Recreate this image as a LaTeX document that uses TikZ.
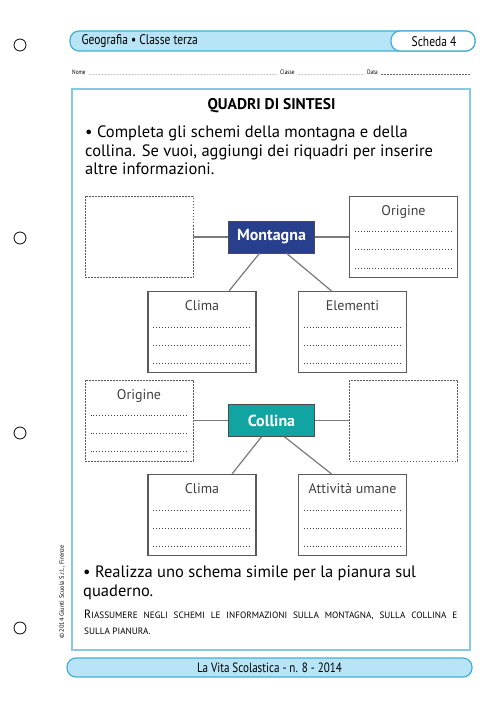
\documentclass[tikz,border=0pt]{standalone}
\usepackage{fontspec}
\setmainfont{PT Sans}
\newfontfamily\condfont[FakeStretch=0.82]{PT Sans}
\usetikzlibrary{calc}
\definecolor{barfill}{HTML}{B8E4F7}
\definecolor{barline}{HTML}{45AED6}
\definecolor{frameline}{HTML}{86C9E2}
\definecolor{montblue}{HTML}{283F8E}
\definecolor{colteal}{HTML}{10A4A2}
\definecolor{boxline}{HTML}{5A5A5A}
\definecolor{linkgray}{HTML}{7A7A7A}
\newcommand\smc[1]{{\fontsize{9.2}{16}\selectfont #1}}

\begin{document}
\begin{tikzpicture}[x=1pt,y=-1pt,
    infobox/.style={draw=boxline, line width=1.1pt, minimum width=108pt, minimum height=81pt, inner sep=0pt},
    emptybox/.style={draw=boxline, line width=0.9pt, dash pattern=on 1.6pt off 1.4pt, minimum width=108pt, minimum height=81pt, inner sep=0pt},
    keybox/.style={draw=black!70, line width=0.6pt, minimum width=86pt, minimum height=32pt, text=white, font=\fontsize{16}{18}\selectfont\bfseries},
    boxtitle/.style={font=\fontsize{14}{16}\selectfont, text=black!75, anchor=north, inner sep=0pt},
    link/.style={draw=linkgray, line width=1.2pt},
    dotrow/.style={draw=black!75, line width=0.9pt, dash pattern=on 0.9pt off 2pt},
    namedots/.style={draw=black!60, line width=0.5pt, dash pattern=on 0.5pt off 1pt},
    bar/.style={draw=barline, line width=1.2pt, rounded corners=9pt}
  ]
  \useasboundingbox (0,0) rectangle (500,708);
  % holes
  \foreach \y in {45,238,433,628}
    \draw[line width=0.8pt] (20,\y) circle (6pt);
  % header
  \draw[bar, fill=barfill] (70,31) rectangle (475,51);
  \draw[bar, fill=white] (391,31) rectangle (475,51);
  \node (subj) [anchor=west, font=\condfont\fontsize{14}{16}\selectfont] at (78,41.5) {Geografia • Classe terza};
  \node (scheda) [font=\condfont\fontsize{14}{16}\selectfont] at (434,41.5) {Scheda 4};
  \node (nome) [anchor=west, inner sep=0pt, font=\condfont\fontsize{6.5}{7}\selectfont] at (72,72) {Nome};
  \node (classe) [anchor=west, inner sep=0pt, font=\condfont\fontsize{6.5}{7}\selectfont] at (280,72) {Classe};
  \node (data) [anchor=west, inner sep=0pt, font=\condfont\fontsize{6.5}{7}\selectfont] at (367,72) {Data};
  \coordinate (rowend) at (470,74);
  \draw[namedots] ([xshift=3pt]nome.base east) -- ([xshift=-3pt]classe.base west);
  \draw[namedots] ([xshift=3pt]classe.base east) -- ([xshift=-3pt]data.base west);
  \draw[namedots] ([xshift=3pt]data.base east) -- (data.base -| rowend);
  % frame
  \draw[frameline, line width=1.2pt] (72,89) rectangle (470,650);
  \node (title) [font=\fontsize{15.5}{17}\selectfont\bfseries] at (271.5,106) {QUADRI DI SINTESI};
  \node (task) [anchor=north west, align=left, inner sep=0pt, font=\fontsize{16.5}{18.5}\selectfont] at (85,126)
    {• Completa gli schemi della montagna e della\\collina. Se vuoi, aggiungi dei riquadri per inserire\\altre informazioni.};
  % montagna
  \node (mont) [keybox, fill=montblue] at (271.5,237) {Montagna};
  \node (blankm) [emptybox] at (139,237) {};
  \node (origm) [infobox] at (403.5,237) {};
  \node (climam) [infobox] at (202,332) {};
  \node (elem) [infobox] at (352.5,332) {};
  \draw[link] (blankm) -- (mont);
  \draw[link] (mont) -- (origm);
  \draw[link] ([xshift=-12pt]mont.south) -- ([xshift=27pt]climam.north);
  \draw[link] ([xshift=15pt]mont.south) -- ([xshift=-21pt]elem.north);
  % collina
  \node (coll) [keybox, fill=colteal] at (271.5,420.5) {Collina};
  \node (origc) [emptybox] at (139,420.5) {};
  \node (blankc) [emptybox] at (403.5,420.5) {};
  \node (climac) [infobox] at (202,515) {};
  \node (attc) [infobox] at (352.5,515) {};
  \draw[link] (origc) -- (coll);
  \draw[link] (coll) -- (blankc);
  \draw[link] ([xshift=-10pt]coll.south) -- ([xshift=30pt]climac.north);
  \draw[link] ([xshift=13pt]coll.south) -- ([xshift=-21pt]attc.north);
  % box titles and rows
  \node[boxtitle] at ($(origm.north)+(0,9.5)$) {Origine};
  \node[boxtitle] at ($(climam.north)+(0,9.5)$) {Clima};
  \node[boxtitle] at ($(elem.north)+(0,9.5)$) {Elementi};
  \node[boxtitle] at ($(origc.north)+(0,9.5)$) {Origine};
  \node[boxtitle] at ($(climac.north)+(0,9.5)$) {Clima};
  \node[boxtitle] at ($(attc.north)+(0,9.5)$) {Attività umane};
  \foreach \b in {origm,climam,elem,origc,climac,attc}
    \foreach \dy in {36,54,72}
      \draw[dotrow] ($(\b.north west)+(6,\dy)$) -- ($(\b.north east)+(-6,\dy)$);
  % bottom
  \node (task2) [anchor=north west, align=left, inner sep=0pt, font=\fontsize{16.5}{18.5}\selectfont] at (83,566)
    {• Realizza uno schema simile per la pianura sul\\quaderno.};
  \node (note) [anchor=north west, text width=373pt, align=justify, inner sep=0pt, font=\fontsize{12}{16}\selectfont] at (84,610)
    {R\smc{IASSUMERE NEGLI SCHEMI LE INFORMAZIONI SULLA MONTAGNA, SULLA COLLINA E}\linebreak\smc{SULLA PIANURA.}};
  \node (copy) [rotate=90, font=\fontsize{6.3}{7}\selectfont] at (62,592) {© 2014 Giunti Scuola S.r.l., Firenze};
  % footer
  \draw[bar, fill=barfill] (67,658) rectangle (472,677);
  \node (mag) [font=\condfont\fontsize{13.5}{15}\selectfont] at (269.5,667.5) {La Vita Scolastica - n. 8 - 2014};
\end{tikzpicture}
\end{document}
